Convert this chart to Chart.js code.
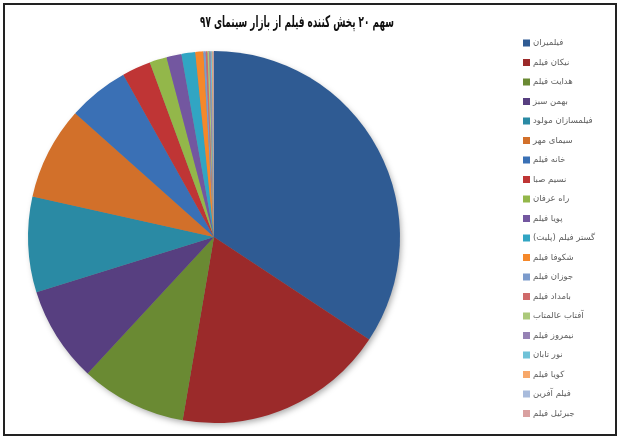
<!DOCTYPE html>
<html>
<head>
<meta charset="utf-8">
<script src="https://cdn.jsdelivr.net/npm/chart.js@4"></script>
<style>
  body { margin: 0; background: #fff; }
  #wrap { position: relative; width: 621px; height: 441px; }
</style>
</head>
<body>
<div id="wrap"><canvas id="shareChart" width="621" height="441"></canvas></div>
<script>
const chartTitle = 'سهم ۲۰ پخش کننده فیلم از بازار سینمای ۹۷';
const distributors = ['فیلمیران', 'نیکان فیلم', 'هدایت فیلم', 'بهمن سبز', 'فیلمسازان مولود',
    'سیمای مهر', 'خانه فیلم', 'نسیم صبا', 'راه عرفان', 'پویا فیلم', 'گستر فیلم (پلیت)',
    'شکوفا فیلم', 'جوزان فیلم', 'بامداد فیلم', 'آفتاب عالمتاب', 'نیمروز فیلم', 'نور تابان',
    'کویا فیلم', 'فیلم آفرین', 'جبرئیل فیلم'];
const shares = [34.3, 18.4, 9.2, 8.3, 8.3, 8.1, 5.3, 2.5, 1.5, 1.3, 1.2, 0.7,
    0.2, 0.15, 0.15, 0.12, 0.1, 0.08, 0.06, 0.05];
const sliceColors = ['#2f5b93', '#9b2a2a', '#6a8a33', '#573f80', '#2a8aa4', '#d2702a',
    '#3a70b5', '#bf3535', '#93b74a', '#7357a0', '#31a5c3', '#f5882a',
    '#7c9bcc', '#cf6a6a', '#abc97a', '#9682b5', '#6fc2d8', '#f7a86a', '#a8bbdc', '#d9a0a0'];

// title, frame and side legend drawn by hand so they sit where the original has them
const decorPlugin = {
    id: 'decor',
    beforeDraw(chart) {
        const ctx = chart.ctx;
        ctx.save();
        ctx.fillStyle = '#fff';
        ctx.fillRect(0, 0, chart.width, chart.height);
        ctx.restore();
    },
    beforeDatasetsDraw(chart) {
        const ctx = chart.ctx;
        ctx.save();
        ctx.shadowColor = 'rgba(0,0,0,0.35)';
        ctx.shadowBlur = 6;
        ctx.shadowOffsetX = 2;
        ctx.shadowOffsetY = 3;
        const arc = chart.getDatasetMeta(0).data[0];
        ctx.beginPath();
        ctx.arc(arc.x, arc.y, arc.outerRadius - 1, 0, Math.PI * 2);
        ctx.fillStyle = '#888';
        ctx.fill();
        ctx.restore();
    },
    afterDraw(chart) {
        const ctx = chart.ctx;
        ctx.save();
        ctx.strokeStyle = '#222';
        ctx.lineWidth = 2;
        ctx.strokeRect(4, 4, 612, 431);

        // title: squeezed sideways to the narrow width of the original font
        ctx.direction = 'rtl';
        ctx.textBaseline = 'middle';
        ctx.fillStyle = '#111';
        ctx.font = '600 16px "DejaVu Sans"';
        ctx.textAlign = 'center';
        const w = ctx.measureText(chartTitle).width;
        const sx = 194 / w;
        ctx.save();
        ctx.translate(297, 23);
        ctx.scale(sx, 1);
        ctx.fillText(chartTitle, 0, 0);
        ctx.restore();

        const ds = chart.data.datasets[0];
        ctx.font = '8.5px "DejaVu Sans"';
        ctx.textAlign = 'left';
        chart.data.labels.forEach((label, i) => {
            const y = 43 + i * 19.5;
            ctx.fillStyle = ds.backgroundColor[i];
            ctx.fillRect(523, y - 3.5, 7, 7);
            ctx.fillStyle = '#606060';
            ctx.fillText(label, 533, y);
        });
        ctx.restore();
    }
};

const ctx = document.getElementById('shareChart').getContext('2d');
const shareChart = new Chart(ctx, {
    type: 'pie',
    data: {
        labels: distributors,
        datasets: [{
            data: shares,
            backgroundColor: sliceColors,
            borderWidth: 0
        }]
    },
    options: {
        responsive: false,
        animation: false,
        layout: { padding: { left: 28, top: 51, right: 221, bottom: 18 } },
        plugins: {
            legend: { display: false },
            title: { display: false },
            tooltip: { enabled: false }
        }
    },
    plugins: [decorPlugin]
});
</script>
</body>
</html>
